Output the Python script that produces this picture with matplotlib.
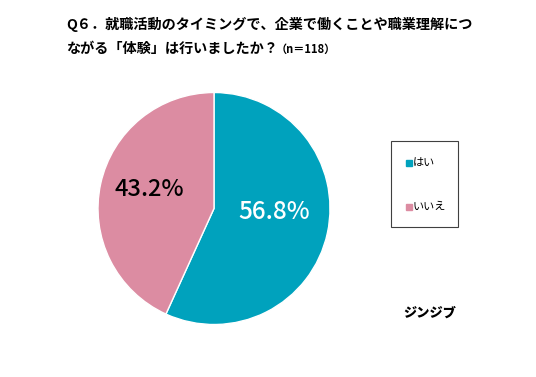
import matplotlib.pyplot as plt
from matplotlib.patches import Rectangle
from matplotlib.lines import Line2D

plt.rcParams['font.family'] = ['Noto Sans CJK JP', 'DejaVu Sans']

labels = ['はい', 'いいえ']
values = [56.8, 43.2]
pct_text = ['56.8%', '43.2%']
colors = ['#00a2bd', '#dc8ca2']

title1 = 'Q６．就職活動のタイミングで、企業で働くことや職業理解につ'
title2 = 'ながる「体験」は行いましたか？'
n_text = '（n＝118）'

fig = plt.figure(figsize=(5.36, 3.77), dpi=100)

cx, cy, r = 214, 208.5, 116
ax = fig.add_axes([(cx - r) / 536, 1 - (cy + r) / 377, 2 * r / 536, 2 * r / 377])
wedges, _ = ax.pie(values, colors=colors, startangle=90, counterclock=False,
                   wedgeprops=dict(edgecolor='white', linewidth=1.0))
ax.set_aspect('equal')
ax.set_xlim(-1, 1)
ax.set_ylim(-1, 1)

ax.text(0.517, -0.03, pct_text[0], color='white', fontsize=17.5, fontweight='medium',
        ha='center', va='center')
ax.text(-0.556, 0.16, pct_text[1], color='black', fontsize=17, fontweight='medium',
        ha='center', va='center')

fig.text(66 / 536, 1 - 24 / 377, title1, fontsize=10.2, fontweight='bold', va='center', ha='left')
fig.text(66 / 536, 1 - 49 / 377, title2, fontsize=10.2, fontweight='bold', va='center', ha='left')
fig.text(276 / 536, 1 - 49 / 377, n_text, fontsize=8, fontweight='bold', va='center', ha='left')

# legend box
fig.add_artist(Rectangle((391 / 536, 1 - 227 / 377), 67 / 536, 86 / 377,
                         transform=fig.transFigure, fill=False, edgecolor='#404040', linewidth=0.8))
for lab, col, y in zip(labels, colors, [163, 207]):
    fig.add_artist(Line2D([409 / 536], [1 - y / 377], marker='s', markersize=4, color=col,
                          linestyle='none', transform=fig.transFigure))
    fig.text(413 / 536, 1 - y / 377, lab, fontsize=8, va='center', ha='left')

fig.text(430 / 536, 1 - 313 / 377, 'ジンジブ', fontsize=9.5, fontweight='heavy', va='center', ha='center',
         style='italic')

fig.savefig('out.png', dpi=100)
